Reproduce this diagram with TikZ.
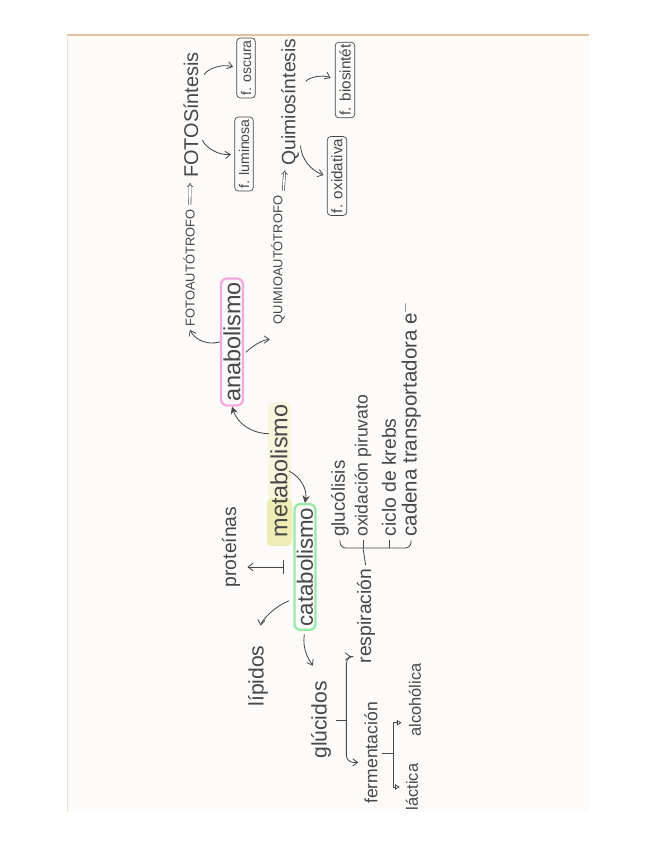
\documentclass[tikz,border=0pt]{standalone}
\usepackage{fontspec}
\setmainfont{Liberation Sans}
\usetikzlibrary{arrows.meta,calc}

\definecolor{ink}{HTML}{474747}
\definecolor{paper}{HTML}{FCFBFA}
\definecolor{edge}{HTML}{E4C29C}
\definecolor{pinkmark}{HTML}{F4A8DB}
\definecolor{greenmark}{HTML}{97EBA8}
\definecolor{hilite}{HTML}{EEEDB6}

\newcommand{\fs}[1]{\fontsize{#1}{#1}\selectfont}

\begin{document}
\begin{tikzpicture}[x=0.03cm,y=-0.03cm,
word/.style={rotate=90,text=ink,inner sep=1pt},
key/.style={word,draw,rounded corners=5pt,line width=2pt,inner xsep=3pt,inner ysep=2pt},
tag/.style={word,draw=ink,rounded corners=3pt,line width=0.6pt,inner xsep=2pt,inner ysep=3.5pt},
arr/.style={draw=ink,line width=0.7pt,-{Straight Barb[length=1.5mm,width=2.2mm]}},
fat/.style={draw=ink,line width=0.7pt,-{Stealth[length=2.2mm,width=2.2mm]}},
imp/.style={draw=ink,double,double distance=1.4pt,line width=0.5pt,-{Implies},shorten <=3pt,shorten >=3pt},
tri/.style={draw=ink,line width=0.7pt,-{Triangle[open,length=1.4mm,width=1.6mm]}},
brk/.style={draw=ink,line width=0.7pt}]
\useasboundingbox (0,0) rectangle (655,848);
% sheet of paper
\fill[white] (0,0) rectangle (655,848);
\fill[paper] (67,35) rectangle (589,812);
\draw[edge,line width=1.3pt] (67,35) -- (589,35);
\draw[edge!45,line width=0.5pt] (67,35) -- (67,812);
\fill[hilite!45,rounded corners=4pt] (268,402) rectangle (291,500);
\fill[hilite,rounded corners=4pt] (267,498) rectangle (292,546);

% centre
\node[word,font=\fs{20}] at (279,471)(metab){metabolismo};
\node[key,draw=pinkmark,font=\fs{20}] at (232,342)(anab){anabolismo};
\node[key,draw=greenmark,font=\fs{19}] at (305,567)(cata){catabolismo};

% anabolismo side
\node[word,font=\fs{11}] at (189,268)(fotoauto){FOTOAUTÓTROFO};
\node[word,font=\fs{17}] at (191,115)(fotosin){FOTOSíntesis};
\node[tag,font=\fs{12}] at (244,154)(lumin){f. luminosa};
\node[tag,font=\fs{12}] at (246,68)(oscura){f. oscura};
\node[word,font=\fs{11}] at (278,260)(quimauto){QUIMIOAUTÓTROFO};
\node[word,font=\fs{16.5}] at (290,102)(quimsin){Quimiosíntesis};
\node[tag,font=\fs{13}] at (345,80)(bios){f. biosintét};
\node[tag,font=\fs{13}] at (337,176)(oxida){f. oxidativa};

% catabolismo side
\node[word,font=\fs{16.5}] at (231,547)(prot){proteínas};
\node[word,font=\fs{18}] at (258,676)(lip){lípidos};
\node[word,font=\fs{18}] at (321,720)(glu){glúcidos};
\node[word,font=\fs{16.5}] at (366,616)(resp){respiración};
\node[word,font=\fs{15}] at (371,753)(ferm){fermentación};
\node[word,font=\fs{14}] at (415,700)(alc){alcohólica};
\node[word,font=\fs{14}] at (412,787)(lact){láctica};
\node[word,font=\fs{16},anchor=west] at (340,538)(gluc){glucólisis};
\node[word,font=\fs{15},anchor=west] at (363,538)(piruv){oxidación piruvato};
\node[word,font=\fs{16.5},anchor=west] at (389,538)(krebs){ciclo de krebs};
\node[word,font=\fs{17.5},anchor=west] at (411,538)(cadena){cadena transportadora e$^-$};

% arrows
\draw[fat] ($(metab.north)!.55!(metab.north east)$) to[bend left=35] (anab.west);
\draw[fat] (metab.south) to[bend left=35] (cata.east);
\draw[arr,shorten >=2pt] (anab.north) to[bend left=40] (fotoauto.west);
\draw[arr,shorten <=9pt] (anab.south) to[out=-80,in=180] ([yshift=-12pt]quimauto.north west);
\draw[imp] (fotoauto) -- (fotosin);
\draw[imp] (quimauto) -- (quimsin);
\draw[arr,shorten <=8pt,shorten >=3pt] ($(fotosin.south)!.5!(fotosin.south east)$) to[bend left=40] (oscura.north);
\draw[arr,shorten <=8pt,shorten >=3pt] ($(fotosin.south)!.25!(fotosin.south west)$) to[bend right=40] (lumin.north);
\draw[arr,shorten <=8pt,shorten >=4pt] ($(quimsin.south)!.2!(quimsin.south east)$) to[bend left=40] (bios.north);
\draw[arr,shorten <=4pt,shorten >=3pt] ($(quimsin.south)!.6!(quimsin.south west)$) to[bend right=35] (oxida.north);
\draw[brk,{Bar[width=4mm]}-{Straight Barb[length=1.5mm,width=2.2mm]},shorten <=8pt,shorten >=5pt] (cata.north) -- (cata.north -| prot.south);
\draw[arr,shorten <=4pt,shorten >=16pt] ($(cata.north)!.5!(cata.north west)$) to[bend right=30] (lip.east);
\draw[arr,shorten <=3pt,shorten >=14pt] (cata.west) to[out=-100,in=120] (glu.east);

% glucidos brace
\path (glu.south) ++(14,0) coordinate (gbr);
\draw[brk,shorten <=3pt] (glu.south) -- (gbr);
\draw[arr,rounded corners=6pt,shorten >=4pt] (gbr) |- ([yshift=7pt]resp.north west);
\draw[arr,rounded corners=6pt,shorten >=4pt] (gbr) |- ([yshift=-8pt]ferm.north);

% respiracion bracket
\coordinate (rbr) at (363,548);
\draw[brk,shorten <=2pt] (resp.east) -- (rbr);
\draw[brk,rounded corners=5pt,shorten <=2pt,shorten >=2pt] (gluc.west) |- (rbr) -| (cadena.west);
\draw[brk,shorten <=2pt] (piruv.west) -- (piruv.west |- rbr);
\draw[brk,shorten <=2pt] (krebs.west) -- (krebs.west |- rbr);

% fermentacion bracket
\path (ferm.south) ++(14,0) coordinate (fbr);
\draw[brk,shorten <=3pt] (ferm.south) -- (fbr);
\draw[tri,shorten >=5pt] (fbr) |- ($(alc.north)!.6!(alc.north west)$);
\draw[tri,shorten >=4pt] (fbr) |- (lact.north);
\end{tikzpicture}
\end{document}
